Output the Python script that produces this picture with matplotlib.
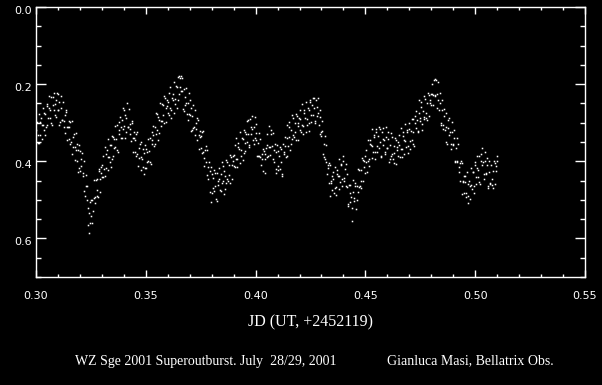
import matplotlib.pyplot as plt
from matplotlib.ticker import MultipleLocator, FormatStrFormatter
from matplotlib.transforms import ScaledTranslation

# light curve (JD - 2452119, relative magnitude)
# two interleaved runs of frames, as read from the dense cloud
jd_a = [
    0.3000, 0.3004, 0.3010, 0.3015, 0.3019, 0.3026, 0.3030, 0.3035, 0.3041, 0.3045,
    0.3050, 0.3054, 0.3060, 0.3065, 0.3069, 0.3076, 0.3080, 0.3085, 0.3091, 0.3095,
    0.3100, 0.3104, 0.3110, 0.3115, 0.3119, 0.3126, 0.3130, 0.3135, 0.3141, 0.3145,
    0.3150, 0.3154, 0.3160, 0.3165, 0.3169, 0.3176, 0.3180, 0.3185, 0.3191, 0.3195,
    0.3200, 0.3204, 0.3210, 0.3215, 0.3219, 0.3226, 0.3230, 0.3235, 0.3241, 0.3245,
    0.3250, 0.3254, 0.3260, 0.3265, 0.3269, 0.3276, 0.3280, 0.3285, 0.3291, 0.3295,
    0.3300, 0.3304, 0.3310, 0.3315, 0.3319, 0.3326, 0.3330, 0.3335, 0.3341, 0.3345,
    0.3350, 0.3354, 0.3360, 0.3365, 0.3369, 0.3376, 0.3380, 0.3385, 0.3391, 0.3395,
    0.3400, 0.3404, 0.3410, 0.3415, 0.3419, 0.3426, 0.3430, 0.3435, 0.3441, 0.3445,
    0.3450, 0.3454, 0.3460, 0.3465, 0.3469, 0.3476, 0.3480, 0.3485, 0.3491, 0.3495,
    0.3500, 0.3504, 0.3510, 0.3515, 0.3519, 0.3526, 0.3530, 0.3535, 0.3541, 0.3545,
    0.3550, 0.3554, 0.3560, 0.3565, 0.3569, 0.3576, 0.3580, 0.3585, 0.3591, 0.3595,
    0.3600, 0.3604, 0.3610, 0.3615, 0.3619, 0.3626, 0.3630, 0.3635, 0.3641, 0.3645,
    0.3650, 0.3654, 0.3660, 0.3665, 0.3669, 0.3676, 0.3680, 0.3685, 0.3691, 0.3695,
    0.3700, 0.3704, 0.3710, 0.3715, 0.3719, 0.3726, 0.3730, 0.3735, 0.3741, 0.3745,
    0.3750, 0.3754, 0.3760, 0.3765, 0.3769, 0.3776, 0.3780, 0.3785, 0.3791, 0.3795,
    0.3800, 0.3804, 0.3810, 0.3815, 0.3819, 0.3826, 0.3830, 0.3835, 0.3841, 0.3845,
    0.3850, 0.3854, 0.3860, 0.3865, 0.3869, 0.3876, 0.3880, 0.3885, 0.3891, 0.3895,
    0.3900, 0.3904, 0.3910, 0.3915, 0.3919, 0.3926, 0.3930, 0.3935, 0.3941, 0.3945,
    0.3950, 0.3954, 0.3960, 0.3965, 0.3969, 0.3976, 0.3980, 0.3985, 0.3991, 0.3995,
    0.4000, 0.4004, 0.4010, 0.4015, 0.4019, 0.4026, 0.4030, 0.4035, 0.4041, 0.4045,
    0.4050, 0.4054, 0.4060, 0.4065, 0.4069, 0.4076, 0.4080, 0.4085, 0.4091, 0.4095,
    0.4100, 0.4104, 0.4110, 0.4115, 0.4119, 0.4126, 0.4130, 0.4135, 0.4141, 0.4145,
    0.4150, 0.4154, 0.4160, 0.4165, 0.4169, 0.4176, 0.4180, 0.4185, 0.4191, 0.4195,
    0.4200, 0.4204, 0.4210, 0.4215, 0.4219, 0.4226, 0.4230, 0.4235, 0.4241, 0.4245,
    0.4250, 0.4254, 0.4260, 0.4265, 0.4269, 0.4276, 0.4280, 0.4285, 0.4291, 0.4295,
    0.4300, 0.4304, 0.4310, 0.4315, 0.4319, 0.4326, 0.4330, 0.4335, 0.4341, 0.4345,
    0.4350, 0.4354, 0.4360, 0.4365, 0.4369, 0.4376, 0.4380, 0.4385, 0.4391, 0.4395,
    0.4400, 0.4404, 0.4410, 0.4415, 0.4419, 0.4426, 0.4430, 0.4435, 0.4441, 0.4445,
    0.4450, 0.4454, 0.4460, 0.4465, 0.4469, 0.4476, 0.4480, 0.4485, 0.4491, 0.4495,
    0.4500, 0.4504, 0.4510, 0.4515, 0.4519, 0.4526, 0.4530, 0.4535, 0.4541, 0.4545,
    0.4550, 0.4554, 0.4560, 0.4565, 0.4569, 0.4576, 0.4580, 0.4585, 0.4591, 0.4595,
    0.4600, 0.4604, 0.4610, 0.4615, 0.4619, 0.4626, 0.4630, 0.4635, 0.4641, 0.4645,
    0.4650, 0.4654, 0.4660, 0.4665, 0.4669, 0.4676, 0.4680, 0.4685, 0.4691, 0.4695,
    0.4700, 0.4704, 0.4710, 0.4715, 0.4719, 0.4726, 0.4730, 0.4735, 0.4741, 0.4745,
    0.4750, 0.4754, 0.4760, 0.4765, 0.4769, 0.4776, 0.4780, 0.4785, 0.4791, 0.4795,
    0.4800, 0.4804, 0.4810, 0.4815, 0.4819, 0.4826, 0.4830, 0.4835, 0.4841, 0.4845,
    0.4850, 0.4854, 0.4860, 0.4865, 0.4869, 0.4876, 0.4880, 0.4885, 0.4891, 0.4895,
    0.4900, 0.4904, 0.4910, 0.4915, 0.4919, 0.4926, 0.4930, 0.4935, 0.4941, 0.4945,
    0.4950, 0.4954, 0.4960, 0.4965, 0.4969, 0.4976, 0.4980, 0.4985, 0.4991, 0.4995,
    0.5000, 0.5004, 0.5010, 0.5015, 0.5019, 0.5026, 0.5030, 0.5035, 0.5041, 0.5045,
    0.5050, 0.5054, 0.5060, 0.5065, 0.5069, 0.5076, 0.5080, 0.5085, 0.5091, 0.5095, 0.5100,
]
mag_a = [
    0.350, 0.297, 0.332, 0.353, 0.299, 0.306, 0.261, 0.320, 0.277, 0.311,
    0.256, 0.287, 0.232, 0.268, 0.300, 0.233, 0.267, 0.251, 0.285, 0.222,
    0.266, 0.245, 0.298, 0.232, 0.292, 0.310, 0.281, 0.267, 0.345, 0.311,
    0.342, 0.299, 0.350, 0.382, 0.338, 0.362, 0.327, 0.399, 0.372, 0.417,
    0.373, 0.413, 0.378, 0.431, 0.477, 0.435, 0.500, 0.520, 0.585, 0.505,
    0.541, 0.501, 0.530, 0.449, 0.493, 0.489, 0.447, 0.420, 0.480, 0.430,
    0.440, 0.385, 0.419, 0.437, 0.382, 0.388, 0.343, 0.402, 0.359, 0.394,
    0.336, 0.366, 0.308, 0.342, 0.371, 0.298, 0.329, 0.310, 0.339, 0.261,
    0.308, 0.279, 0.324, 0.250, 0.310, 0.330, 0.303, 0.295, 0.375, 0.340,
    0.375, 0.330, 0.380, 0.411, 0.366, 0.388, 0.350, 0.414, 0.378, 0.417,
    0.368, 0.401, 0.343, 0.374, 0.402, 0.325, 0.354, 0.331, 0.356, 0.275,
    0.318, 0.286, 0.327, 0.248, 0.296, 0.295, 0.255, 0.232, 0.298, 0.256,
    0.275, 0.224, 0.263, 0.287, 0.235, 0.240, 0.194, 0.251, 0.208, 0.242,
    0.180, 0.208, 0.178, 0.218, 0.264, 0.213, 0.255, 0.248, 0.293, 0.223,
    0.281, 0.261, 0.318, 0.253, 0.312, 0.331, 0.301, 0.287, 0.368, 0.336,
    0.365, 0.323, 0.377, 0.412, 0.371, 0.401, 0.370, 0.446, 0.425, 0.505,
    0.432, 0.469, 0.422, 0.465, 0.499, 0.430, 0.462, 0.445, 0.478, 0.402,
    0.451, 0.425, 0.473, 0.396, 0.447, 0.450, 0.410, 0.383, 0.445, 0.400,
    0.413, 0.359, 0.394, 0.415, 0.362, 0.369, 0.325, 0.385, 0.342, 0.378,
    0.324, 0.353, 0.295, 0.329, 0.359, 0.291, 0.328, 0.316, 0.356, 0.285,
    0.344, 0.326, 0.387, 0.326, 0.388, 0.410, 0.380, 0.368, 0.430, 0.381,
    0.389, 0.330, 0.364, 0.383, 0.330, 0.360, 0.327, 0.401, 0.376, 0.419,
    0.373, 0.411, 0.364, 0.403, 0.434, 0.356, 0.382, 0.360, 0.385, 0.305,
    0.338, 0.310, 0.355, 0.281, 0.333, 0.338, 0.301, 0.278, 0.344, 0.302,
    0.320, 0.268, 0.306, 0.328, 0.276, 0.288, 0.245, 0.306, 0.266, 0.300,
    0.247, 0.279, 0.235, 0.262, 0.295, 0.240, 0.282, 0.275, 0.330, 0.268,
    0.335, 0.322, 0.390, 0.335, 0.403, 0.433, 0.410, 0.404, 0.490, 0.452,
    0.475, 0.428, 0.469, 0.487, 0.432, 0.438, 0.394, 0.453, 0.410, 0.445,
    0.400, 0.444, 0.408, 0.467, 0.510, 0.462, 0.506, 0.492, 0.555, 0.449,
    0.495, 0.463, 0.500, 0.419, 0.467, 0.465, 0.423, 0.392, 0.450, 0.400,
    0.431, 0.372, 0.399, 0.413, 0.355, 0.357, 0.315, 0.376, 0.338, 0.376,
    0.325, 0.360, 0.310, 0.350, 0.385, 0.323, 0.359, 0.345, 0.382, 0.310,
    0.365, 0.341, 0.394, 0.326, 0.382, 0.394, 0.360, 0.339, 0.406, 0.364,
    0.387, 0.333, 0.368, 0.388, 0.335, 0.345, 0.303, 0.364, 0.324, 0.361,
    0.317, 0.347, 0.291, 0.325, 0.355, 0.282, 0.314, 0.293, 0.321, 0.241,
    0.287, 0.259, 0.304, 0.230, 0.284, 0.289, 0.248, 0.222, 0.283, 0.240,
    0.255, 0.199, 0.229, 0.186, 0.232, 0.226, 0.195, 0.268, 0.250, 0.300,
    0.267, 0.307, 0.264, 0.310, 0.350, 0.293, 0.333, 0.325, 0.368, 0.299,
    0.358, 0.340, 0.401, 0.339, 0.401, 0.429, 0.405, 0.399, 0.485, 0.453,
    0.483, 0.437, 0.482, 0.509, 0.460, 0.464, 0.417, 0.472, 0.427, 0.463,
    0.410, 0.442, 0.387, 0.422, 0.454, 0.380, 0.410, 0.402, 0.445, 0.376,
    0.432, 0.410, 0.464, 0.398, 0.455, 0.462, 0.425, 0.400, 0.460, 0.413, 0.385,
]
jd_b = [
    0.3002, 0.3007, 0.3012, 0.3017, 0.3022, 0.3028, 0.3032, 0.3038, 0.3043, 0.3048,
    0.3052, 0.3057, 0.3062, 0.3067, 0.3072, 0.3078, 0.3082, 0.3088, 0.3093, 0.3098,
    0.3102, 0.3107, 0.3112, 0.3117, 0.3122, 0.3128, 0.3132, 0.3138, 0.3143, 0.3148,
    0.3152, 0.3157, 0.3162, 0.3167, 0.3172, 0.3178, 0.3182, 0.3188, 0.3193, 0.3198,
    0.3202, 0.3207, 0.3212, 0.3217, 0.3222, 0.3228, 0.3232, 0.3238, 0.3243, 0.3248,
    0.3252, 0.3257, 0.3262, 0.3267, 0.3272, 0.3278, 0.3282, 0.3288, 0.3293, 0.3298,
    0.3302, 0.3307, 0.3312, 0.3317, 0.3322, 0.3328, 0.3332, 0.3338, 0.3343, 0.3348,
    0.3352, 0.3357, 0.3362, 0.3367, 0.3372, 0.3378, 0.3382, 0.3388, 0.3393, 0.3398,
    0.3402, 0.3407, 0.3412, 0.3417, 0.3422, 0.3428, 0.3432, 0.3438, 0.3443, 0.3448,
    0.3452, 0.3457, 0.3462, 0.3467, 0.3472, 0.3478, 0.3482, 0.3488, 0.3493, 0.3498,
    0.3502, 0.3507, 0.3512, 0.3517, 0.3522, 0.3528, 0.3532, 0.3538, 0.3543, 0.3548,
    0.3552, 0.3557, 0.3562, 0.3567, 0.3572, 0.3578, 0.3582, 0.3588, 0.3593, 0.3598,
    0.3602, 0.3607, 0.3612, 0.3617, 0.3622, 0.3628, 0.3632, 0.3638, 0.3643, 0.3648,
    0.3652, 0.3657, 0.3662, 0.3667, 0.3672, 0.3678, 0.3682, 0.3688, 0.3693, 0.3698,
    0.3702, 0.3707, 0.3712, 0.3717, 0.3722, 0.3728, 0.3732, 0.3738, 0.3743, 0.3748,
    0.3752, 0.3757, 0.3762, 0.3767, 0.3772, 0.3778, 0.3782, 0.3788, 0.3793, 0.3798,
    0.3802, 0.3807, 0.3812, 0.3817, 0.3822, 0.3828, 0.3832, 0.3838, 0.3843, 0.3848,
    0.3852, 0.3857, 0.3862, 0.3867, 0.3872, 0.3878, 0.3882, 0.3888, 0.3893, 0.3898,
    0.3902, 0.3907, 0.3912, 0.3917, 0.3922, 0.3928, 0.3932, 0.3938, 0.3943, 0.3948,
    0.3952, 0.3957, 0.3962, 0.3967, 0.3972, 0.3978, 0.3982, 0.3988, 0.3993, 0.3998,
    0.4002, 0.4007, 0.4012, 0.4017, 0.4022, 0.4028, 0.4032, 0.4038, 0.4043, 0.4048,
    0.4052, 0.4057, 0.4062, 0.4067, 0.4072, 0.4078, 0.4082, 0.4088, 0.4093, 0.4098,
    0.4102, 0.4107, 0.4112, 0.4117, 0.4122, 0.4128, 0.4132, 0.4138, 0.4143, 0.4148,
    0.4152, 0.4157, 0.4162, 0.4167, 0.4172, 0.4178, 0.4182, 0.4188, 0.4193, 0.4198,
    0.4202, 0.4207, 0.4212, 0.4217, 0.4222, 0.4228, 0.4232, 0.4238, 0.4243, 0.4248,
    0.4252, 0.4257, 0.4262, 0.4267, 0.4272, 0.4278, 0.4282, 0.4288, 0.4293, 0.4298,
    0.4302, 0.4307, 0.4312, 0.4317, 0.4322, 0.4328, 0.4332, 0.4338, 0.4343, 0.4348,
    0.4352, 0.4357, 0.4362, 0.4367, 0.4372, 0.4378, 0.4382, 0.4388, 0.4393, 0.4398,
    0.4402, 0.4407, 0.4412, 0.4417, 0.4422, 0.4428, 0.4432, 0.4438, 0.4443, 0.4448,
    0.4452, 0.4457, 0.4462, 0.4467, 0.4472, 0.4478, 0.4482, 0.4488, 0.4493, 0.4498,
    0.4502, 0.4507, 0.4512, 0.4517, 0.4522, 0.4528, 0.4532, 0.4538, 0.4543, 0.4548,
    0.4552, 0.4557, 0.4562, 0.4567, 0.4572, 0.4578, 0.4582, 0.4588, 0.4593, 0.4598,
    0.4602, 0.4607, 0.4612, 0.4617, 0.4622, 0.4628, 0.4632, 0.4638, 0.4643, 0.4648,
    0.4652, 0.4657, 0.4662, 0.4667, 0.4672, 0.4678, 0.4682, 0.4688, 0.4693, 0.4698,
    0.4702, 0.4707, 0.4712, 0.4717, 0.4722, 0.4728, 0.4732, 0.4738, 0.4743, 0.4748,
    0.4752, 0.4757, 0.4762, 0.4767, 0.4772, 0.4778, 0.4782, 0.4788, 0.4793, 0.4798,
    0.4802, 0.4807, 0.4812, 0.4817, 0.4822, 0.4828, 0.4832, 0.4838, 0.4843, 0.4848,
    0.4852, 0.4857, 0.4862, 0.4867, 0.4872, 0.4878, 0.4882, 0.4888, 0.4893, 0.4898,
    0.4902, 0.4907, 0.4912, 0.4917, 0.4922, 0.4928, 0.4932, 0.4938, 0.4943, 0.4948,
    0.4952, 0.4957, 0.4962, 0.4967, 0.4972, 0.4978, 0.4982, 0.4988, 0.4993, 0.4998,
    0.5002, 0.5007, 0.5012, 0.5017, 0.5022, 0.5028, 0.5032, 0.5038, 0.5043, 0.5048,
    0.5052, 0.5057, 0.5062, 0.5067, 0.5072, 0.5078, 0.5082, 0.5088, 0.5093, 0.5098,
]
mag_b = [
    0.320, 0.352, 0.277, 0.333, 0.289, 0.341, 0.306, 0.275, 0.332, 0.251,
    0.306, 0.262, 0.287, 0.233, 0.305, 0.253, 0.222, 0.281, 0.240, 0.266,
    0.226, 0.305, 0.263, 0.292, 0.247, 0.295, 0.326, 0.272, 0.310, 0.296,
    0.312, 0.354, 0.295, 0.362, 0.328, 0.397, 0.372, 0.354, 0.427, 0.357,
    0.425, 0.395, 0.438, 0.400, 0.490, 0.465, 0.465, 0.565, 0.533, 0.560,
    0.501, 0.561, 0.495, 0.509, 0.448, 0.474, 0.492, 0.425, 0.445, 0.415,
    0.410, 0.440, 0.364, 0.417, 0.372, 0.423, 0.388, 0.357, 0.414, 0.334,
    0.386, 0.341, 0.363, 0.307, 0.376, 0.318, 0.284, 0.340, 0.294, 0.316,
    0.268, 0.339, 0.289, 0.310, 0.265, 0.315, 0.348, 0.300, 0.340, 0.325,
    0.345, 0.385, 0.325, 0.391, 0.356, 0.423, 0.395, 0.369, 0.433, 0.357,
    0.418, 0.376, 0.398, 0.339, 0.407, 0.345, 0.309, 0.361, 0.311, 0.330,
    0.278, 0.346, 0.292, 0.308, 0.251, 0.280, 0.300, 0.237, 0.263, 0.241,
    0.245, 0.279, 0.208, 0.267, 0.225, 0.275, 0.239, 0.206, 0.263, 0.182,
    0.225, 0.183, 0.218, 0.183, 0.269, 0.233, 0.210, 0.278, 0.248, 0.278,
    0.241, 0.321, 0.283, 0.313, 0.267, 0.316, 0.346, 0.292, 0.333, 0.321,
    0.335, 0.378, 0.322, 0.392, 0.361, 0.436, 0.415, 0.401, 0.480, 0.414,
    0.482, 0.444, 0.477, 0.430, 0.504, 0.450, 0.417, 0.475, 0.433, 0.457,
    0.411, 0.485, 0.438, 0.456, 0.402, 0.435, 0.455, 0.388, 0.410, 0.385,
    0.383, 0.414, 0.339, 0.395, 0.352, 0.404, 0.370, 0.340, 0.397, 0.318,
    0.374, 0.328, 0.350, 0.294, 0.364, 0.311, 0.283, 0.346, 0.311, 0.340,
    0.304, 0.386, 0.352, 0.386, 0.343, 0.395, 0.425, 0.373, 0.395, 0.366,
    0.359, 0.385, 0.309, 0.363, 0.320, 0.395, 0.372, 0.356, 0.431, 0.359,
    0.423, 0.386, 0.419, 0.368, 0.439, 0.376, 0.337, 0.390, 0.340, 0.360,
    0.298, 0.370, 0.320, 0.341, 0.288, 0.323, 0.346, 0.283, 0.309, 0.287,
    0.290, 0.323, 0.251, 0.308, 0.266, 0.323, 0.290, 0.261, 0.321, 0.240,
    0.297, 0.254, 0.280, 0.236, 0.300, 0.260, 0.237, 0.305, 0.285, 0.323,
    0.295, 0.382, 0.355, 0.395, 0.358, 0.418, 0.455, 0.409, 0.455, 0.437,
    0.445, 0.483, 0.414, 0.467, 0.422, 0.473, 0.439, 0.408, 0.465, 0.385,
    0.450, 0.419, 0.463, 0.432, 0.515, 0.482, 0.461, 0.522, 0.480, 0.504,
    0.455, 0.523, 0.465, 0.479, 0.422, 0.450, 0.468, 0.397, 0.415, 0.385,
    0.401, 0.427, 0.344, 0.393, 0.345, 0.392, 0.360, 0.331, 0.393, 0.316,
    0.375, 0.335, 0.365, 0.315, 0.390, 0.343, 0.314, 0.375, 0.337, 0.365,
    0.325, 0.401, 0.359, 0.386, 0.337, 0.379, 0.405, 0.344, 0.371, 0.349,
    0.357, 0.388, 0.313, 0.368, 0.325, 0.380, 0.348, 0.319, 0.379, 0.301,
    0.367, 0.322, 0.346, 0.290, 0.360, 0.302, 0.269, 0.323, 0.276, 0.296,
    0.247, 0.319, 0.269, 0.290, 0.239, 0.274, 0.293, 0.227, 0.248, 0.225,
    0.225, 0.254, 0.190, 0.227, 0.188, 0.261, 0.240, 0.223, 0.305, 0.240,
    0.317, 0.282, 0.319, 0.275, 0.355, 0.313, 0.288, 0.355, 0.323, 0.354,
    0.318, 0.400, 0.366, 0.399, 0.356, 0.414, 0.450, 0.404, 0.450, 0.438,
    0.453, 0.492, 0.427, 0.489, 0.450, 0.499, 0.462, 0.427, 0.482, 0.403,
    0.460, 0.417, 0.442, 0.387, 0.459, 0.400, 0.365, 0.432, 0.400, 0.431,
    0.392, 0.470, 0.429, 0.458, 0.410, 0.447, 0.470, 0.405, 0.425, 0.398,
]

x_label = 'JD (UT, +2452119)'
caption_left = 'WZ Sge 2001 Superoutburst. July  28/29, 2001'
caption_right = 'Gianluca Masi, Bellatrix Obs.'

fig = plt.figure(figsize=(6.02, 3.85), dpi=100, facecolor='black')
ax = fig.add_axes([36/602, 1 - 277/385, 549/602, 270/385])
ax.set_facecolor('black')

ax.plot(jd_a, mag_a, 's', color='white', ms=1.1, mew=0, antialiased=False)
ax.plot(jd_b, mag_b, 's', color='white', ms=1.1, mew=0, antialiased=False)

ax.set_xlim(0.30, 0.55)
ax.set_ylim(0.70, 0.0)
ax.xaxis.set_major_locator(MultipleLocator(0.05))
ax.xaxis.set_minor_locator(MultipleLocator(0.01))
ax.yaxis.set_major_locator(MultipleLocator(0.2))
ax.yaxis.set_minor_locator(MultipleLocator(0.05))
ax.xaxis.set_major_formatter(FormatStrFormatter('%.2f'))
ax.yaxis.set_major_formatter(FormatStrFormatter('%.1f'))

for s in ax.spines.values():
    s.set_color('white')
    s.set_linewidth(1.0)

ax.tick_params(axis='both', which='both', direction='in', colors='white',
               top=True, right=True, width=1.0, labelsize=8)
ax.tick_params(axis='x', which='major', length=5, pad=10)
ax.tick_params(axis='x', which='minor', length=2.5)
ax.tick_params(axis='y', which='major', length=7, pad=3)
ax.tick_params(axis='y', which='minor', length=3.5)

# y labels sit a little below their ticks, the top one inside the frame
shift = ScaledTranslation(0, -3/100, fig.dpi_scale_trans)
for i, t in enumerate(ax.yaxis.get_major_ticks()):
    t.label1.set_transform(t.label1.get_transform() + shift)
    if i == 0:
        t.label1.set_va('top')

fig.text(311/602, 1 - 322/385, x_label, color='white', family='Liberation Serif',
         fontsize=11.5, ha='center', va='center')
fig.text(75/602, 1 - 361/385, caption_left, color='white', family='Liberation Serif',
         fontsize=10, ha='left', va='center')
fig.text(387/602, 1 - 361/385, caption_right, color='white', family='Liberation Serif',
         fontsize=10, ha='left', va='center')

fig.savefig('out.png', dpi=100, facecolor='black')
